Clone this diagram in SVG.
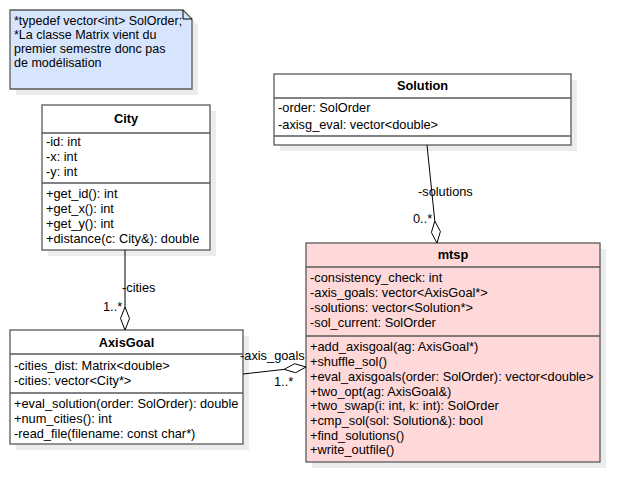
<svg xmlns="http://www.w3.org/2000/svg" width="639" height="502" viewBox="0 0 639 502">
<style>
text{font-family:"Liberation Sans",Arial,sans-serif;font-size:12.8px;fill:#000}
.nt{font-size:12.5px}
.t{font-weight:bold;text-anchor:middle}
.box{stroke:#595959;stroke-width:1.3}
.sh{fill:#ececec}
.ln{stroke:#595959;stroke-width:1.3}
.c{stroke:#000;stroke-width:1;fill:none}
.d{stroke:#000;stroke-width:1;fill:#fff}
</style>
<rect width="639" height="502" fill="#fff"/>
<g id="note">
<path class="sh" d="M16 16H189L198 25V95H16Z"/>
<path class="box" fill="#d6e4fc" d="M10 10H183L192 19V89H10Z"/>
<path class="c" stroke="#595959" d="M183 10V19H192"/>
<text class="nt" x="14" y="25">*typedef vector&lt;int&gt; SolOrder;</text>
<text class="nt" x="14" y="39">*La classe Matrix vient du</text>
<text class="nt" x="14" y="53">premier semestre donc pas</text>
<text class="nt" x="14" y="67">de modélisation</text>
</g>
<g id="City">
<rect class="sh" x="48" y="111" width="168" height="145"/>
<rect class="box" fill="#fff" x="42" y="105" width="168" height="145"/>
<line class="ln" x1="42" y1="133" x2="210" y2="133"/>
<line class="ln" x1="42" y1="183" x2="210" y2="183"/>
<text class="t" x="126" y="123">City</text>
<text x="46" y="146">-id: int</text>
<text x="46" y="161">-x: int</text>
<text x="46" y="176">-y: int</text>
<text x="46" y="198">+get_id(): int</text>
<text x="46" y="213">+get_x(): int</text>
<text x="46" y="228">+get_y(): int</text>
<text x="46" y="243">+distance(c: City&amp;): double</text>
</g>
<g id="Solution">
<rect class="sh" x="280" y="80" width="297" height="71"/>
<rect class="box" fill="#fff" x="274" y="74" width="297" height="71"/>
<line class="ln" x1="274" y1="98" x2="571" y2="98"/>
<line class="ln" x1="274" y1="136" x2="571" y2="136"/>
<text class="t" x="422.5" y="90">Solution</text>
<text x="278" y="112">-order: SolOrder</text>
<text x="278" y="129">-axisg_eval: vector&lt;double&gt;</text>
</g>
<g id="AxisGoal">
<rect class="sh" x="16" y="336" width="233" height="114"/>
<rect class="box" fill="#fff" x="10" y="330" width="233" height="114"/>
<line class="ln" x1="10" y1="354" x2="243" y2="354"/>
<line class="ln" x1="10" y1="393" x2="243" y2="393"/>
<text class="t" x="126.5" y="347">AxisGoal</text>
<text x="14" y="370">-cities_dist: Matrix&lt;double&gt;</text>
<text x="14" y="385">-cities: vector&lt;City*&gt;</text>
<text x="14" y="408">+eval_solution(order: SolOrder): double</text>
<text x="14" y="423">+num_cities(): int</text>
<text x="14" y="438">-read_file(filename: const char*)</text>
</g>
<g id="mtsp">
<rect class="sh" x="312" y="249" width="294" height="219"/>
<rect class="box" fill="#ffd9d9" x="306" y="243" width="294" height="219"/>
<line class="ln" x1="306" y1="267" x2="600" y2="267"/>
<line class="ln" x1="306" y1="336" x2="600" y2="336"/>
<text class="t" x="453" y="259">mtsp</text>
<text x="310" y="282">-consistency_check: int</text>
<text x="310" y="297">-axis_goals: vector&lt;AxisGoal*&gt;</text>
<text x="310" y="312">-solutions: vector&lt;Solution*&gt;</text>
<text x="310" y="327">-sol_current: SolOrder</text>
<text x="310" y="351">+add_axisgoal(ag: AxisGoal*)</text>
<text x="310" y="366">+shuffle_sol()</text>
<text x="310" y="381">+eval_axisgoals(order: SolOrder): vector&lt;double&gt;</text>
<text x="310" y="396">+two_opt(ag: AxisGoal&amp;)</text>
<text x="310" y="410">+two_swap(i: int, k: int): SolOrder</text>
<text x="310" y="425">+cmp_sol(sol: Solution&amp;): bool</text>
<text x="310" y="440">+find_solutions()</text>
<text x="310" y="454">+write_outfile()</text>
</g>
<g id="connectors">
<line class="c" x1="125" y1="250" x2="125" y2="307"/>
<path class="d" d="M125 307L129.5 318.5L125 330L120.5 318.5Z"/>
<text x="122" y="292">-cities</text>
<text x="103" y="311">1..*</text>
<line class="c" x1="427" y1="145" x2="434.8" y2="221.1"/>
<path class="d" d="M434.8 221.1L440.4 231.5L437 243L431.4 232.5Z"/>
<text x="418" y="196">-solutions</text>
<text x="413" y="223">0..*</text>
<line class="c" x1="243" y1="374" x2="284.1" y2="369.4"/>
<path class="d" d="M284.1 369.4L294.6 363.7L306 367L295.6 372.7Z"/>
<text x="240" y="360">-axis_goals</text>
<text x="274" y="386">1..*</text>
</g>
</svg>
